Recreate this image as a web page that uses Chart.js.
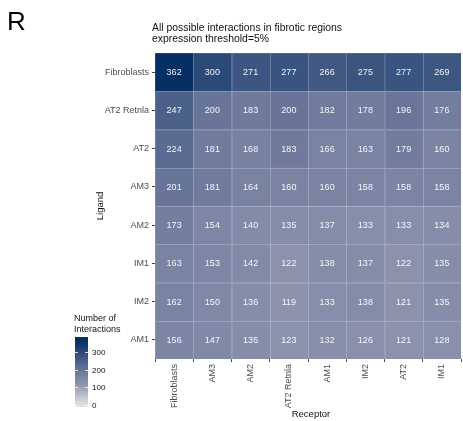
<!DOCTYPE html>
<html>
<head>
<meta charset="utf-8">
<script src="https://cdn.jsdelivr.net/npm/chart.js@4"></script>
<style>
  html, body { margin: 0; padding: 0; background: #fff; }
  canvas { display: block; }
</style>
</head>
<body>
<canvas id="heatmap" width="463" height="421"></canvas>
<script>
// Ligand x receptor interaction counts (fibrotic regions)

const receptors = ['Fibroblasts', 'AM3', 'AM2', 'AT2 Retnla', 'AM1', 'IM2', 'AT2', 'IM1'];
const ligands = ['Fibroblasts', 'AT2 Retnla', 'AT2', 'AM3', 'AM2', 'IM1', 'IM2', 'AM1'];

const fibroblastsRow = [362, 300, 271, 277, 266, 275, 277, 269];
const at2RetnlaRow   = [247, 200, 183, 200, 182, 178, 196, 176];
const at2Row         = [224, 181, 168, 183, 166, 163, 179, 160];
const am3Row         = [201, 181, 164, 160, 160, 158, 158, 158];
const am2Row         = [173, 154, 140, 135, 137, 133, 133, 134];
const im1Row         = [163, 153, 142, 122, 138, 137, 122, 135];
const im2Row         = [162, 150, 136, 119, 133, 138, 121, 135];
const am1Row         = [156, 147, 135, 123, 132, 126, 121, 128];

const legendTicks = [0, 100, 200, 300];

const rows = [fibroblastsRow, at2RetnlaRow, at2Row, am3Row, am2Row, im1Row, im2Row, am1Row];

// fill scale: light grey -> navy
const colorStops = [
  [0,   [226, 226, 232]],
  [119, [141, 147, 173]],
  [200, [104, 117, 152]],
  [362, [6, 47, 99]]
];

function fillFor(v) {
  for (let i = 1; i < colorStops.length; i++) {
    const [v0, c0] = colorStops[i - 1];
    const [v1, c1] = colorStops[i];
    if (v <= v1 || i === colorStops.length - 1) {
      const t = Math.max(0, Math.min(1, (v - v0) / (v1 - v0)));
      const c = c0.map((x, k) => Math.round(x + (c1[k] - x) * t));
      return `rgb(${c[0]}, ${c[1]}, ${c[2]})`;
    }
  }
}

// stack rows bottom-up so the first ligand ends on top
const bottomUp = ligands.map((name, i) => ({ name, values: rows[i] })).reverse();

const datasets = bottomUp.map(row => ({
  label: row.name,
  data: receptors.map(() => 1),
  counts: row.values,
  backgroundColor: row.values.map(fillFor),
  borderWidth: 0,
  barPercentage: 1,
  categoryPercentage: 1
}));

const FONT = '"Liberation Sans", Arial, Helvetica, sans-serif';

const cellLabels = {
  id: 'cellLabels',
  afterDatasetsDraw(chart) {
    const ctx = chart.ctx;
    ctx.save();
    // faint tile outlines
    ctx.strokeStyle = 'rgba(255,255,255,0.12)';
    ctx.lineWidth = 1;
    chart.data.datasets.forEach((ds, di) => {
      chart.getDatasetMeta(di).data.forEach(bar => {
        const half = bar.width / 2;
        ctx.strokeRect(Math.round(bar.x - half) + 0.5, Math.round(bar.y) + 0.5,
          Math.round(bar.width), Math.round(bar.base - bar.y));
      });
    });

    ctx.font = `9px ${FONT}`;
    ctx.fillStyle = 'rgba(255,255,255,0.92)';
    ctx.textAlign = 'center';
    ctx.textBaseline = 'middle';
    chart.data.datasets.forEach((ds, di) => {
      chart.getDatasetMeta(di).data.forEach((bar, i) => {
        ctx.fillText(String(ds.counts[i]), bar.x, (bar.y + bar.base) / 2 + 0.5);
      });
    });
    ctx.restore();
  }
};

const annotations = {
  id: 'annotations',
  afterDraw(chart) {
    const ctx = chart.ctx;
    const area = chart.chartArea;
    ctx.save();

    // panel letter
    ctx.fillStyle = '#000';
    ctx.font = `26px ${FONT}`;
    ctx.textBaseline = 'alphabetic';
    ctx.textAlign = 'left';
    ctx.fillText('R', 7, 30);

    // title
    ctx.font = `10.4px ${FONT}`;
    ctx.fillStyle = '#111';
    ctx.fillText('All possible interactions in fibrotic regions', 152, 31);
    ctx.fillText('expression threshold=5%', 152, 42);

    // axis titles
    ctx.font = `9.5px ${FONT}`;
    ctx.fillStyle = '#111';
    ctx.textAlign = 'center';
    ctx.fillText('Receptor', (area.left + area.right) / 2 + 3, 417);
    ctx.save();
    ctx.translate(103, (area.top + area.bottom) / 2);
    ctx.rotate(-Math.PI / 2);
    ctx.fillText('Ligand', 0, 0);
    ctx.restore();

    // colour bar legend
    const barX = 75, barW = 13, barTop = 337, barBottom = 407;
    const zeroY = 405, pxPerUnit = 0.176;
    const topVal = (zeroY - barTop) / pxPerUnit;
    const botVal = (zeroY - barBottom) / pxPerUnit;
    const grad = ctx.createLinearGradient(0, barBottom, 0, barTop);
    for (let k = 0; k <= 20; k++) {
      const v = botVal + (topVal - botVal) * k / 20;
      grad.addColorStop(k / 20, fillFor(Math.max(0, Math.min(362, v))));
    }
    ctx.fillStyle = grad;
    ctx.fillRect(barX, barTop, barW, barBottom - barTop);

    ctx.strokeStyle = 'rgba(255,255,255,0.8)';
    ctx.lineWidth = 1;
    ctx.font = `8px ${FONT}`;
    ctx.fillStyle = '#111';
    ctx.textAlign = 'left';
    ctx.textBaseline = 'middle';
    legendTicks.forEach(t => {
      const y = Math.round(zeroY - t * pxPerUnit) + 0.5;
      ctx.beginPath();
      ctx.moveTo(barX, y); ctx.lineTo(barX + 3, y);
      ctx.moveTo(barX + barW - 3, y); ctx.lineTo(barX + barW, y);
      ctx.stroke();
      ctx.fillText(String(t), 92, y);
    });

    ctx.font = `9px ${FONT}`;
    ctx.textBaseline = 'alphabetic';
    ctx.fillText('Number of', 74, 321);
    ctx.fillText('Interactions', 74, 332);

    ctx.restore();
  }
};

new Chart(document.getElementById('heatmap'), {
  type: 'bar',
  data: { labels: receptors, datasets },
  options: {
    responsive: false,
    animation: false,
    layout: { padding: { top: 53, right: 2, left: 0, bottom: 0 } },
    plugins: { legend: { display: false }, tooltip: { enabled: false } },
    scales: {
      x: {
        stacked: true,
        afterFit(scale) { scale.height = 62; },
        grid: { display: true, drawOnChartArea: false, drawTicks: true, tickLength: 3, color: '#444' },
        border: { display: false },
        ticks: {
          minRotation: 90, maxRotation: 90, autoSkip: false, padding: 2,
          color: '#4d4d4d', font: { family: FONT, size: 9 }
        }
      },
      y: {
        type: 'linear',
        stacked: true,
        min: 0,
        max: ligands.length,
        afterFit(scale) { scale.width = 155; },
        afterBuildTicks(scale) {
          scale.ticks = bottomUp.map((_, i) => ({ value: i + 0.5 }));
        },
        grid: { display: true, drawOnChartArea: false, drawTicks: true, tickLength: 3, color: '#444' },
        border: { display: false },
        ticks: {
          autoSkip: false, padding: 3,
          color: '#4d4d4d', font: { family: FONT, size: 9 },
          callback: value => bottomUp[Math.floor(value)] ? bottomUp[Math.floor(value)].name : ''
        }
      }
    }
  },
  plugins: [cellLabels, annotations]
});
</script>
</body>
</html>
